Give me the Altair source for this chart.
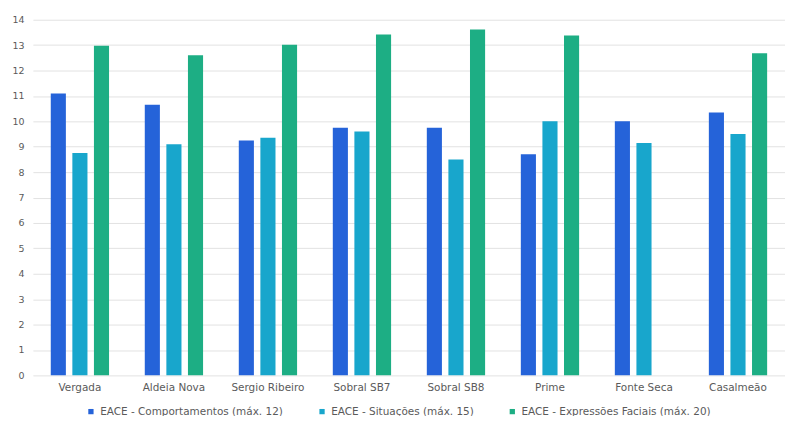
import altair as alt
import pandas as pd

categories = ["Vergada", "Aldeia Nova", "Sergio Ribeiro", "Sobral SB7", "Sobral SB8", "Prime", "Fonte Seca", "Casalmeão"]
series = ["EACE - Comportamentos (máx. 12)", "EACE - Situações (máx. 15)", "EACE - Expressões Faciais (máx. 20)"]
comportamentos = [11.1, 10.65, 9.25, 9.75, 9.75, 8.7, 10.0, 10.35]
situacoes = [8.75, 9.1, 9.35, 9.6, 8.5, 10.0, 9.15, 9.5]
expressoes = [12.98, 12.6, 13.02, 13.42, 13.62, 13.38, None, 12.68]
colors = ["#2563D9", "#18A6CC", "#1DAE84"]

rows = []
for vals, s in zip([comportamentos, situacoes, expressoes], series):
    for c, v in zip(categories, vals):
        if v is not None:
            rows.append({"Escola": c, "Serie": s, "Valor": v})
df = pd.DataFrame(rows)

font = "DejaVu Sans"

chart = alt.Chart(df).mark_bar().encode(
    x=alt.X("Escola:N", sort=categories, title=None,
            scale=alt.Scale(paddingInner=0.38, paddingOuter=0.19),
            axis=alt.Axis(labelAngle=0, ticks=False, domain=False, labelPadding=7,
                          labelFontSize=10.5, labelColor="#5a5a5a", labelFont=font)),
    xOffset=alt.XOffset("Serie:N", sort=series, scale=alt.Scale(paddingInner=0.3)),
    y=alt.Y("Valor:Q", title=None,
            scale=alt.Scale(domain=[0, 14], nice=False),
            axis=alt.Axis(values=list(range(0, 15)), ticks=False, domain=False, labelPadding=9,
                          labelFontSize=9.5, labelColor="#5a5a5a", labelFont=font,
                          gridColor="#e2e2e2")),
    color=alt.Color("Serie:N", sort=series, scale=alt.Scale(domain=series, range=colors),
                    legend=alt.Legend(title=None, orient="none", legendX=53, legendY=388,
                                      direction="horizontal", columns=3, columnPadding=33,
                                      symbolType="square", symbolSize=28, labelFontSize=10.5,
                                      labelLimit=400,
                                      labelColor="#5a5a5a", labelFont=font)),
).properties(
    width=755, height=357,
    autosize=alt.AutoSizeParams(type="none"),
    padding={"left": 25, "top": 11, "right": 0, "bottom": 40},
).configure_view(stroke=None)

chart.save("out.html", embed_options={"renderer": "svg", "actions": False})
